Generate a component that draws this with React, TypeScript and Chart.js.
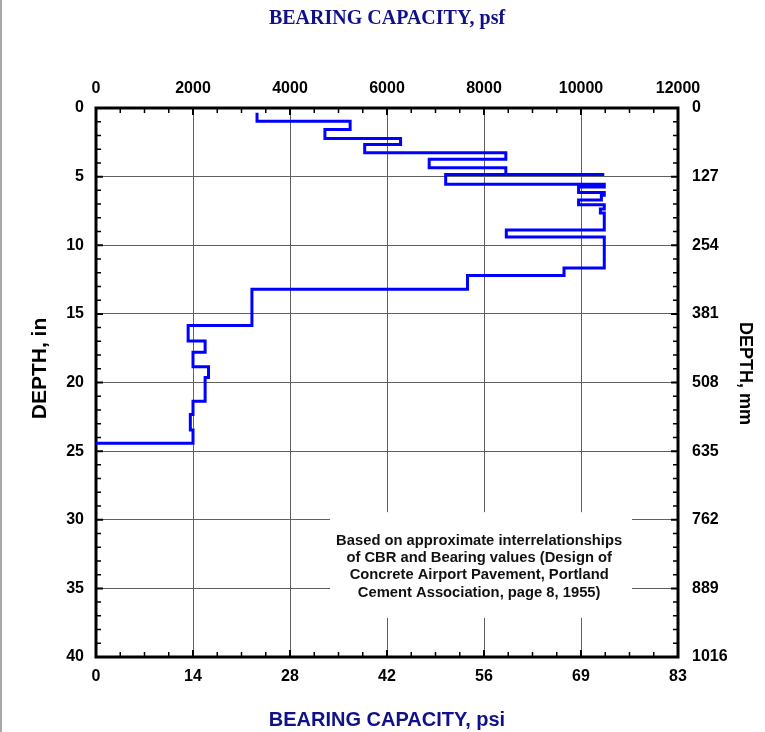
import React, { useEffect, useRef } from 'react';
import { Chart, registerables } from 'chart.js';

Chart.register(...registerables);

// ---- data ----
const psfTicks = [0, 2000, 4000, 6000, 8000, 10000, 12000];
const psiTickLabels = ['0', '14', '28', '42', '56', '69', '83'];
const depthTicks = [0, 5, 10, 15, 20, 25, 30, 35, 40];
const mmTickLabels = ['0', '127', '254', '381', '508', '635', '762', '889', '1016'];

// Layer top depth (in) and bearing capacity (psf) of each layer
const layerTopDepthIn = [
  0.35, 0.97, 1.57, 2.22, 2.66, 3.26, 3.74, 4.35, 4.85, 4.85,
  5.55, 5.75, 6.15, 6.35, 6.7, 7.05, 7.35, 7.65, 8.88, 9.39,
  11.65, 12.2, 13.2, 15.84, 16.97, 17.79, 18.85, 19.64, 21.37, 22.33,
  23.46, 24.42,
];
const layerBearingPsf = [
  3320, 5240, 4720, 6280, 5540, 8450, 6870, 8450, 10480, 7210,
  10480, 9950, 10480, 10420, 9950, 10480, 10400, 10480, 8460, 10480,
  9650, 7660, 3215, 1900, 2250, 2000, 2320, 2250, 2000, 1945,
  2000, 0,
];

const noteLines = [
  'Based on approximate interrelationships',
  'of CBR and Bearing values (Design of',
  'Concrete Airport Pavement, Portland',
  'Cement Association, page 8, 1955)',
];
// note placement in data units
const noteBoxPsf = [4825, 11050];
const noteBoxDepth = [29.45, 37.15];
const noteCenterPsf = 7900;
const noteFirstLineDepth = 31.55;
const noteLineDepthStep = 1.25;

const TITLE_COLOR = '#10108a';
const TICK_FONT = { family: 'Liberation Sans, Arial, sans-serif', size: 16, weight: 'bold' as const };

const framePlugin = {
  id: 'frameTicks',
  beforeDatasetsDraw(chart: any) {
    const { ctx, chartArea: a, scales } = chart;
    const x = scales.x;
    const y = scales.y;
    ctx.save();
    // note box (white background over grid)
    const bx0 = x.getPixelForValue(noteBoxPsf[0]);
    const bx1 = x.getPixelForValue(noteBoxPsf[1]);
    const by0 = y.getPixelForValue(noteBoxDepth[0]);
    const by1 = y.getPixelForValue(noteBoxDepth[1]);
    ctx.fillStyle = '#ffffff';
    ctx.fillRect(bx0, by0, bx1 - bx0, by1 - by0);
    ctx.fillStyle = '#111111';
    ctx.font = 'bold 14.75px "Liberation Sans", Arial, sans-serif';
    ctx.textAlign = 'center';
    ctx.textBaseline = 'middle';
    const cx = x.getPixelForValue(noteCenterPsf);
    noteLines.forEach((t, i) => {
      ctx.fillText(t, cx, y.getPixelForValue(noteFirstLineDepth + i * noteLineDepthStep));
    });

    // inward ticks
    ctx.strokeStyle = '#000';
    for (let v = 0; v <= 12000; v += 500) {
      const px = x.getPixelForValue(v);
      const major = v % 2000 === 0;
      const len = major ? 7 : 5;
      ctx.lineWidth = major ? 2 : 1.5;
      ctx.beginPath();
      ctx.moveTo(px, a.top);
      ctx.lineTo(px, a.top + len);
      ctx.moveTo(px, a.bottom);
      ctx.lineTo(px, a.bottom - len);
      ctx.stroke();
    }
    for (let d = 0; d <= 40; d += 1) {
      const py = y.getPixelForValue(d);
      const major = d % 5 === 0;
      const len = major ? 7 : 5;
      ctx.lineWidth = major ? 2 : 1.5;
      ctx.beginPath();
      ctx.moveTo(a.left, py);
      ctx.lineTo(a.left + len, py);
      ctx.moveTo(a.right, py);
      ctx.lineTo(a.right - len, py);
      ctx.stroke();
    }
    // frame
    ctx.lineWidth = 3;
    ctx.strokeRect(a.left, a.top, a.right - a.left, a.bottom - a.top);
    ctx.restore();
  },
  afterDraw(chart: any) {
    const { ctx, height, chartArea: a } = chart;
    ctx.save();
    ctx.fillStyle = '#a8a8a8';
    ctx.fillRect(0, 0, 2, height);
    // vertical axis titles
    ctx.fillStyle = '#000';
    ctx.textAlign = 'center';
    ctx.textBaseline = 'middle';
    const midY = (a.top + a.bottom) / 2;
    ctx.font = 'bold 21px "Liberation Sans", Arial, sans-serif';
    ctx.save();
    ctx.translate(40, midY - 14);
    ctx.rotate(-Math.PI / 2);
    ctx.fillText('DEPTH, in', 0, 0);
    ctx.restore();
    ctx.font = 'bold 18px "Liberation Sans", Arial, sans-serif';
    ctx.save();
    ctx.translate(745, midY - 9);
    ctx.rotate(Math.PI / 2);
    ctx.fillText('DEPTH, mm', 0, 0);
    ctx.restore();
    ctx.restore();
  },
};

export default function App() {
  const canvasRef = useRef<HTMLCanvasElement | null>(null);

  useEffect(() => {
    if (!canvasRef.current) return;
    const points = layerTopDepthIn.map((d, i) => ({ x: layerBearingPsf[i], y: d }));
    const chart = new Chart(canvasRef.current, {
      type: 'line',
      data: {
        datasets: [
          {
            data: points,
            xAxisID: 'x',
            yAxisID: 'y',
            borderColor: '#0000ff',
            borderWidth: 3,
            pointRadius: 0,
            stepped: 'after',
            fill: false,
            tension: 0,
            clip: false as any,
          },
        ],
      },
      options: {
        responsive: false,
        animation: false,
        devicePixelRatio: 1,
        layout: { padding: 0 },
        plugins: {
          legend: { display: false },
          tooltip: { enabled: false },
        },
        scales: {
          x: {
            type: 'linear',
            position: 'bottom',
            min: 0,
            max: 12000,
            afterBuildTicks: (s: any) => { s.ticks = psfTicks.map((v) => ({ value: v })); },
            afterFit: (s: any) => { s.height = 75; },
            ticks: {
              autoSkip: false,
              maxRotation: 0,
              padding: 10,
              color: '#000',
              font: TICK_FONT,
              callback: (_v: any, i: number) => psiTickLabels[i],
            },
            grid: { color: '#606060', lineWidth: 1, drawTicks: false },
            border: { display: false },
            title: {
              display: true,
              text: 'BEARING CAPACITY, psi',
              color: TITLE_COLOR,
              font: { family: 'Liberation Sans, Arial, sans-serif', size: 20, weight: 'bold' },
              padding: { top: 0, bottom: 0 },
            },
          },
          x2: {
            type: 'linear',
            position: 'top',
            min: 0,
            max: 12000,
            afterBuildTicks: (s: any) => { s.ticks = psfTicks.map((v) => ({ value: v })); },
            afterFit: (s: any) => { s.height = 108; },
            ticks: {
              autoSkip: false,
              maxRotation: 0,
              padding: 10,
              color: '#000',
              font: TICK_FONT,
              callback: (v: any) => String(v),
            },
            grid: { display: false, drawTicks: false },
            border: { display: false },
            title: {
              display: true,
              text: 'BEARING CAPACITY, psf',
              color: TITLE_COLOR,
              font: { family: 'Liberation Serif, Times New Roman, serif', size: 20, weight: 'bold' },
              padding: { top: 7, bottom: 0 },
            },
          },
          y: {
            type: 'linear',
            position: 'left',
            reverse: true,
            min: 0,
            max: 40,
            afterBuildTicks: (s: any) => { s.ticks = depthTicks.map((v) => ({ value: v })); },
            afterFit: (s: any) => { s.width = 96; },
            ticks: {
              autoSkip: false,
              padding: 12,
              color: '#000',
              font: TICK_FONT,
              callback: (v: any) => String(v),
            },
            grid: { color: '#606060', lineWidth: 1, drawTicks: false },
            border: { display: false },
            title: { display: false },
          },
          y2: {
            type: 'linear',
            position: 'right',
            reverse: true,
            min: 0,
            max: 40,
            afterBuildTicks: (s: any) => { s.ticks = depthTicks.map((v) => ({ value: v })); },
            afterFit: (s: any) => { s.width = 87; },
            ticks: {
              autoSkip: false,
              padding: 14,
              color: '#000',
              font: TICK_FONT,
              callback: (_v: any, i: number) => mmTickLabels[i],
            },
            grid: { display: false, drawTicks: false },
            border: { display: false },
            title: { display: false },
          },
        },
      } as any,
      plugins: [framePlugin],
    });
    return () => chart.destroy();
  }, []);

  return (
    <div style={{ position: 'fixed', left: 0, top: 0, width: 765, height: 732, background: '#fff' }}>
      <canvas ref={canvasRef} width={765} height={732} style={{ width: 765, height: 732, display: 'block' }} />
    </div>
  );
}
